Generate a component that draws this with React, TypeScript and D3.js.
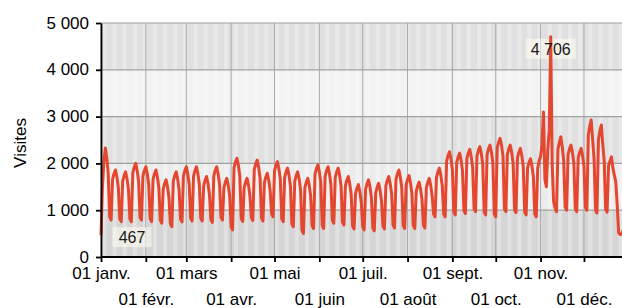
import React from "react";
import * as d3 from "d3";

// visites du 1er janvier, puis une ligne par semaine (lun. -> dim.)
const firstDay = 467;
const weeks: number[][] = [
  [1500, 2050, 2330, 2120, 1780, 860, 790],
  [1660, 1780, 1860, 1710, 1480, 815, 755],
  [1620, 1740, 1820, 1670, 1440, 810, 755],
  [1800, 1920, 2000, 1850, 1620, 850, 790],
  [1730, 1850, 1930, 1780, 1550, 820, 755],
  [1660, 1780, 1860, 1710, 1480, 790, 725],
  [1450, 1570, 1650, 1500, 1270, 710, 650],
  [1620, 1740, 1820, 1670, 1440, 810, 750],
  [1730, 1850, 1930, 1780, 1550, 830, 770],
  [1730, 1850, 1930, 1780, 1550, 830, 770],
  [1520, 1640, 1720, 1570, 1340, 800, 740],
  [1730, 1850, 1930, 1780, 1550, 850, 790],
  [1480, 1600, 1680, 1530, 1300, 650, 580],
  [1910, 2030, 2110, 1960, 1730, 820, 760],
  [1480, 1600, 1680, 1530, 1300, 840, 780],
  [1870, 1990, 2070, 1920, 1690, 830, 770],
  [1590, 1710, 1790, 1640, 1410, 920, 860],
  [1840, 1960, 2040, 1890, 1660, 815, 755],
  [1700, 1820, 1900, 1750, 1520, 710, 650],
  [1620, 1740, 1820, 1670, 1440, 570, 505],
  [1480, 1600, 1680, 1530, 1300, 670, 610],
  [1770, 1890, 1970, 1820, 1590, 670, 610],
  [1730, 1850, 1930, 1780, 1550, 780, 720],
  [1700, 1820, 1900, 1750, 1520, 745, 685],
  [1520, 1640, 1720, 1570, 1340, 660, 600],
  [1350, 1470, 1550, 1400, 1170, 640, 580],
  [1450, 1570, 1650, 1500, 1270, 620, 560],
  [1375, 1495, 1575, 1425, 1195, 660, 600],
  [1520, 1640, 1720, 1570, 1340, 680, 620],
  [1660, 1780, 1860, 1710, 1480, 670, 610],
  [1540, 1660, 1740, 1590, 1360, 670, 610],
  [1400, 1520, 1600, 1450, 1220, 680, 620],
  [1480, 1600, 1680, 1530, 1300, 920, 860],
  [1700, 1820, 1900, 1750, 1520, 920, 860],
  [2050, 2170, 2250, 2100, 1870, 960, 900],
  [2020, 2140, 2220, 2070, 1840, 990, 930],
  [2100, 2220, 2300, 2150, 1920, 1030, 970],
  [2160, 2280, 2360, 2210, 1980, 960, 900],
  [2190, 2310, 2390, 2240, 2010, 920, 860],
  [2335, 2455, 2535, 2385, 2155, 1030, 970],
  [2190, 2310, 2390, 2240, 2010, 1010, 950],
  [2120, 2240, 2320, 2170, 1940, 960, 900],
  [1900, 2020, 2100, 1950, 1720, 920, 860],
  [1900, 2050, 2150, 2400, 3100, 1650, 1500],
  [2300, 2700, 4706, 2000, 1180, 1050, 970],
  [2300, 2450, 2570, 2350, 2050, 1060, 1000],
  [2190, 2310, 2390, 2240, 2010, 1030, 970],
  [2120, 2240, 2320, 2170, 1940, 1060, 1000],
  [2600, 2800, 2930, 2500, 2100, 1000, 940],
  [2500, 2700, 2820, 2400, 2050, 1020, 960],
  [1950, 2050, 2140, 1900, 1750, 1600, 1100],
  [520, 480, 490, 560, 540, 490, 480],
];

const yTicks = [0, 1000, 2000, 3000, 4000, 5000];
const yTickLabels = ["0", "1 000", "2 000", "3 000", "4 000", "5 000"];
const monthLabels = [
  "01 janv.", "01 févr.", "01 mars", "01 avr.", "01 mai", "01 juin",
  "01 juil.", "01 août", "01 sept.", "01 oct.", "01 nov.", "01 déc.",
];
const bandColors = ["#d5d5d5", "#ececec", "#e0e0e0", "#f3f3f3", "#e0e0e0"];

const W = 622;
const H = 308;
const FONT = '"Liberation Sans", Arial, sans-serif';

const App = () => {
  const ref = React.useRef<SVGSVGElement>(null);

  React.useEffect(() => {
    const svg = d3.select(ref.current);
    svg.selectAll("*").remove();

    const values = [firstDay, ...weeks.flat()];
    const start = new Date(Date.UTC(2023, 0, 1));
    const end = new Date(Date.UTC(2024, 0, 1));
    const dates = d3.utcDay.range(start, end);

    const x = d3.scaleUtc().domain([start, end]).range([101, 628.8]);
    const y = d3.scaleLinear().domain([0, 5000]).range([257, 23]);
    const left = 101, right = W, top = 23, bottom = 257;

    // bandes de fond
    svg.append("g")
      .selectAll("rect")
      .data(bandColors)
      .join("rect")
      .attr("x", left)
      .attr("width", right - left)
      .attr("y", (d, i) => y(yTicks[i + 1]))
      .attr("height", (d, i) => y(yTicks[i]) - y(yTicks[i + 1]))
      .attr("fill", d => d);

    // rayures hebdomadaires
    const mondays = d3.utcMonday.range(start, end);
    svg.append("g")
      .selectAll("rect")
      .data(mondays)
      .join("rect")
      .attr("x", d => x(d))
      .attr("width", 4)
      .attr("y", top)
      .attr("height", bottom - top)
      .attr("fill", "white")
      .attr("opacity", 0.3);

    const months = d3.utcMonth.range(start, end);
    // grille
    svg.append("g")
      .selectAll("line")
      .data(months)
      .join("line")
      .attr("x1", d => x(d)).attr("x2", d => x(d))
      .attr("y1", top).attr("y2", bottom)
      .attr("stroke", "#a8a8a8");
    svg.append("g")
      .selectAll("line")
      .data(yTicks.slice(1))
      .join("line")
      .attr("x1", left).attr("x2", right)
      .attr("y1", d => y(d)).attr("y2", d => y(d))
      .attr("stroke", "#a0a0a0")
      .attr("stroke-width", 1.2);

    // annotations min / max
    const maxI = d3.maxIndex(values);
    const minI = d3.minIndex(values);
    const notes = [
      { v: values[minI], cx: x(dates[minI]) + 31, cy: y(values[minI]) + 2, w: 39 },
      { v: values[maxI], cx: x(dates[maxI]), cy: y(values[maxI]) + 12, w: 50 },
    ];
    const fmt = (v: number) => d3.format(",")(v).replace(",", " ");
    svg.append("g")
      .selectAll("rect")
      .data(notes)
      .join("rect")
      .attr("x", d => d.cx - d.w / 2)
      .attr("y", d => d.cy - 10)
      .attr("width", d => d.w)
      .attr("height", 20)
      .attr("fill", "#fffff0")
      .attr("opacity", 0.55);

    // courbe
    const line = d3.line<number>()
      .x((d, i) => x(dates[i]))
      .y(d => y(d));
    svg.append("path")
      .datum(values)
      .attr("d", line)
      .attr("fill", "none")
      .attr("stroke", "#e4472f")
      .attr("stroke-width", 3)
      .attr("stroke-linejoin", "round");

    svg.append("g")
      .selectAll("text")
      .data(notes)
      .join("text")
      .attr("x", d => d.cx)
      .attr("y", d => d.cy + 6)
      .attr("text-anchor", "middle")
      .attr("font-family", FONT)
      .attr("font-size", 16)
      .attr("fill", "#1a1a1a")
      .text(d => fmt(d.v));

    // axes
    const yAxis = svg.append("g")
      .attr("transform", `translate(${left},0)`)
      .call(d3.axisLeft(y).tickValues(yTicks)
        .tickFormat((d, i) => yTickLabels[i])
        .tickSize(5).tickSizeOuter(0).tickPadding(7));
    const xAxis = svg.append("g")
      .attr("transform", `translate(0,${bottom})`)
      .call(d3.axisBottom(x).tickValues(months)
        .tickFormat((d, i) => monthLabels[i])
        .tickSize(5).tickSizeOuter(0).tickPadding(4));
    xAxis.select(".domain").attr("d", `M${left},0H${right}`);
    xAxis.selectAll("text").attr("y", (d, i) => (i % 2 ? 36 : 10));

    [xAxis, yAxis].forEach(a => {
      a.selectAll("path, line").attr("stroke", "#000").attr("stroke-width", 1.8);
      a.selectAll("text")
        .attr("font-family", FONT)
        .attr("font-size", 17)
        .attr("fill", "#000");
    });
    yAxis.selectAll("text").attr("dy", "0.3em");

    svg.append("text")
      .attr("transform", "translate(26,143) rotate(-90)")
      .attr("text-anchor", "middle")
      .attr("font-family", FONT)
      .attr("font-size", 17)
      .text("Visites");
  }, []);

  return (
    <svg
      ref={ref}
      width={W}
      height={H}
      style={{ position: "absolute", left: 0, top: 0, background: "#fff" }}
    ></svg>
  );
};

export default App;
